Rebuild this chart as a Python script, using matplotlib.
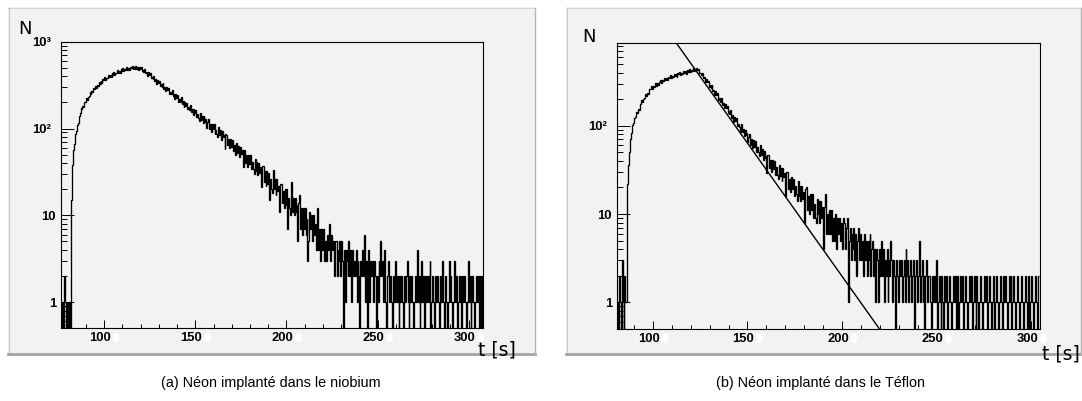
import numpy as np
import matplotlib
matplotlib.use("Agg")
import matplotlib.pyplot as plt
from matplotlib.patches import Rectangle, Ellipse
from matplotlib.lines import Line2D
from matplotlib.ticker import FixedLocator, LogLocator, NullFormatter, MultipleLocator, FixedFormatter
from matplotlib.transforms import ScaledTranslation
from matplotlib import font_manager

# ---------------- data ----------------
bin_width = 0.5   # seconds per bin

# (a) neon implanted in niobium: counts per bin, first bin starts at 76 s
nb_start = 76.0
nb_counts = [
    1, 0, 1, 0, 2, 1, 0, 1, 0, 1, 0, 2,
    15, 38, 57, 66, 86, 93, 109, 115, 141, 149,
    174, 167, 183, 179, 203, 202, 224, 213, 233, 234,
    262, 250, 270, 260, 292, 287, 311, 293, 314, 312,
    344, 326, 349, 333, 371, 360, 387, 361, 384, 378,
    415, 388, 412, 390, 431, 417, 446, 415, 440, 432,
    470, 438, 464, 438, 481, 464, 495, 459, 484, 473,
    512, 476, 501, 471, 515, 495, 524, 483, 506, 491,
    529, 488, 510, 475, 514, 488, 510, 462, 475, 453,
    489, 436, 451, 408, 444, 412, 431, 382, 395, 373,
    404, 354, 371, 330, 365, 336, 356, 310, 323, 304,
    334, 288, 304, 268, 301, 275, 294, 251, 265, 248,
    276, 235, 250, 217, 248, 225, 242, 204, 217, 202,
    228, 191, 205, 176, 204, 183, 199, 166, 178, 164,
    188, 155, 168, 142, 168, 150, 165, 134, 146, 133,
    121, 152, 125, 138, 115, 138, 119, 130, 101, 118,
    128, 100, 112, 92, 113, 99, 112, 86, 97, 87,
    79, 103, 84, 95, 74, 93, 79, 84, 58, 86,
    85, 64, 75, 60, 75, 62, 74, 55, 64, 55,
    50, 69, 52, 63, 47, 62, 51, 56, 36, 57,
    57, 40, 49, 36, 50, 39, 49, 34, 41, 34,
    30, 45, 32, 41, 29, 40, 31, 36, 21, 37,
    37, 24, 32, 22, 32, 23, 31, 15, 26, 20,
    18, 33, 20, 26, 17, 26, 19, 22, 11, 23,
    23, 14, 19, 12, 20, 13, 20, 7, 16, 12,
    10, 24, 11, 16, 10, 16, 11, 13, 5, 14,
    17, 7, 12, 6, 12, 7, 12, 6, 9, 3,
    5, 11, 7, 10, 5, 10, 6, 8, 4, 9,
    12, 4, 7, 3, 7, 4, 7, 3, 5, 3,
    3, 6, 4, 8, 3, 6, 4, 5, 2, 5,
    5, 2, 4, 3, 5, 2, 5, 3, 0, 4,
    1, 4, 3, 2, 5, 2, 4, 1, 4, 2,
    3, 2, 4, 1, 3, 2, 0, 3, 2, 4,
    2, 6, 1, 3, 0, 2, 4, 1, 3, 2,
    3, 1, 3, 2, 0, 2, 1, 3, 2, 5,
    2, 3, 1, 4, 1, 0, 2, 3, 2, 1,
    2, 1, 0, 2, 1, 3, 1, 2, 1, 0,
    2, 1, 2, 1, 0, 2, 1, 2, 3, 1,
    0, 2, 1, 2, 1, 0, 1, 2, 1, 4,
    1, 2, 0, 1, 3, 1, 2, 0, 2, 1,
    2, 1, 2, 3, 0, 1, 2, 1, 0, 2,
    1, 2, 1, 0, 1, 2, 1, 3, 1, 0,
    2, 1, 0, 1, 3, 1, 2, 1, 0, 1,
    3, 1, 2, 0, 1, 2, 1, 2, 0, 2,
    1, 2, 1, 0, 1, 3, 1, 2, 0, 1,
    2, 1, 0, 1, 2, 1, 2, 0, 2, 1, 0, 2,
]

# (b) neon implanted in Teflon: counts per bin, first bin starts at 81 s
tef_start = 81.0
tef_counts = [
    1, 0, 2, 1, 0, 3, 1, 0, 2, 1,
    1, 22, 36, 50, 71, 83, 101, 107, 123, 126,
    143, 140, 154, 152, 176, 176, 194, 186, 203, 205,
    229, 219, 238, 230, 259, 259, 280, 263, 281, 278,
    305, 285, 302, 287, 317, 309, 330, 307, 326, 320,
    349, 326, 345, 327, 360, 348, 372, 346, 365, 357,
    389, 362, 382, 360, 395, 381, 405, 375, 396, 387,
    420, 391, 412, 389, 426, 411, 436, 403, 425, 415,
    450, 419, 442, 416, 455, 432, 444, 395, 399, 374,
    398, 344, 354, 312, 341, 310, 323, 278, 286, 265,
    287, 245, 254, 221, 245, 221, 233, 197, 205, 188,
    207, 174, 183, 157, 176, 158, 168, 139, 146, 135,
    150, 124, 131, 111, 127, 113, 121, 99, 105, 96,
    85, 105, 86, 93, 77, 90, 78, 83, 65, 75,
    81, 61, 70, 56, 69, 58, 68, 50, 57, 50,
    45, 60, 47, 55, 41, 52, 43, 46, 29, 47,
    47, 33, 41, 30, 41, 32, 40, 28, 34, 28,
    25, 36, 27, 33, 24, 33, 26, 29, 16, 30,
    30, 19, 25, 18, 26, 19, 25, 16, 21, 17,
    14, 24, 16, 21, 14, 21, 15, 18, 8, 19,
    20, 11, 16, 10, 17, 11, 17, 9, 13, 9,
    8, 15, 10, 14, 8, 14, 9, 12, 4, 12,
    17, 6, 10, 6, 11, 6, 11, 5, 9, 5,
    5, 10, 4, 9, 6, 9, 5, 8, 4, 9,
    8, 4, 7, 9, 1, 5, 7, 3, 6, 4,
    7, 3, 6, 2, 5, 7, 3, 6, 3, 5,
    2, 6, 3, 5, 2, 5, 3, 6, 2, 4,
    5, 2, 4, 1, 4, 3, 1, 4, 2, 5,
    2, 4, 1, 3, 2, 4, 1, 3, 2, 5,
    3, 1, 3, 2, 0, 3, 2, 1, 3, 2,
    3, 1, 2, 3, 1, 4, 2, 3, 1, 2,
    3, 1, 2, 3, 0, 2, 3, 1, 2, 5,
    1, 2, 3, 1, 2, 0, 2, 3, 1, 2,
    2, 1, 0, 2, 1, 2, 1, 3, 0, 1,
    2, 1, 0, 2, 1, 0, 2, 1, 2, 0,
    1, 2, 1, 0, 1, 2, 1, 2, 0, 2,
    1, 0, 1, 2, 1, 2, 0, 1, 2, 1,
    0, 1, 2, 1, 2, 0, 1, 2, 1, 0,
    2, 1, 0, 1, 2, 1, 0, 1, 2, 1,
    2, 0, 1, 2, 1, 0, 1, 2, 1, 0,
    1, 2, 1, 0, 1, 2, 1, 0, 2, 1,
    2, 1, 0, 1, 2, 1, 2, 0, 1, 2,
    1, 0, 1, 2, 1, 0, 1, 2, 1, 0,
    1, 2, 1, 0, 2, 1, 0, 1, 2, 1,
    0, 1, 2, 1, 0, 2,
]

# exponential fit drawn on panel (b): N(t) = fit_n0 * exp(-(t - fit_t0) / fit_tau)
fit_t0 = 112.4
fit_n0 = 865.0
fit_tau = 14.4
fit_t_end = 219.7

x_ticks = [100, 150, 200, 250, 300]
x_tick_labels = ["100", "150", "200", "250", "300"]
y_ticks_a = [1, 10, 100, 1000]
y_tick_labels_a = ["1", "10", "10²", "10³"]
y_ticks_b = [1, 10, 100]
y_tick_labels_b = ["1", "10", "10²"]
xlim_a = (76.1, 308.0)
ylim_a = (0.5, 1000.0)
xlim_b = (80.9, 304.3)
ylim_b = (0.5, 865.0)

y_title = "N"
x_title = "t [s]"
caption_a = "(a) Néon implanté dans le niobium"
caption_b = "(b) Néon implanté dans le Téflon"

# ---------------- helpers ----------------
def pick(fams):
    for f in fams:
        try:
            font_manager.findfont(font_manager.FontProperties(family=f), fallback_to_default=False)
            return f
        except Exception:
            pass
    return "DejaVu Sans"

tick_font = pick(["Liberation Sans", "Arial", "DejaVu Sans"])
cap_font = pick(["Liberation Sans Narrow", "Liberation Sans"])
cap_size = 12.2 if cap_font == "Liberation Sans Narrow" else 10.4

W, H = 1082, 401
fig = plt.figure(figsize=(W / 100, H / 100), dpi=100)
fig.patch.set_facecolor("white")

def fx(px):
    return px / W

def fy(py):
    return 1 - py / H

# ROOT canvas boxes
for (x0, x1) in [(8, 535), (566, 1081)]:
    fig.add_artist(Rectangle((fx(x0), fy(354)), fx(x1 - x0), (354 - 7) / H,
                             transform=fig.transFigure, facecolor="#f2f2f2",
                             edgecolor="none", zorder=0))
    fig.add_artist(Line2D([fx(x0), fx(x1)], [fy(7.5), fy(7.5)], color="#d4d4d4", lw=0.8, zorder=1))
    fig.add_artist(Line2D([fx(x0 + 0.5), fx(x0 + 0.5)], [fy(7.5), fy(354)], color="#c8c8c8", lw=0.8, zorder=1))
    fig.add_artist(Line2D([fx(x0), fx(x1)], [fy(354), fy(354)], color="#a4a4a4", lw=2.0, zorder=1))
    fig.add_artist(Line2D([fx(x1 - 0.5), fx(x1 - 0.5)], [fy(7.5), fy(354)], color="#b4b4b4", lw=1.0, zorder=1))


def setup_axes(rect, xlim, ylim, yticks, ylabels):
    ax = fig.add_axes(rect)
    ax.set_facecolor("#f2f2f2")
    ax.set_yscale("log")
    ax.set_xlim(*xlim)
    ax.set_ylim(*ylim)
    for s in ax.spines.values():
        s.set_color("black")
        s.set_linewidth(0.8)
    ax.xaxis.set_major_locator(FixedLocator(x_ticks))
    ax.xaxis.set_major_formatter(FixedFormatter(x_tick_labels))
    ax.xaxis.set_minor_locator(MultipleLocator(10))
    ax.yaxis.set_major_locator(FixedLocator(yticks))
    ax.yaxis.set_major_formatter(FixedFormatter(ylabels))
    ax.yaxis.set_minor_locator(LogLocator(base=10, subs=np.arange(2, 10)))
    ax.yaxis.set_minor_formatter(NullFormatter())
    ax.tick_params(which="both", direction="in", top=False, right=False, colors="black", width=0.7)
    ax.xaxis.set_tick_params(which="major", length=6, pad=3.0)
    ax.xaxis.set_tick_params(which="minor", length=2.7)
    ax.yaxis.set_tick_params(which="major", length=9.5, pad=3.4)
    ax.yaxis.set_tick_params(which="minor", length=4.5)
    for lab in ax.get_xticklabels() + ax.get_yticklabels():
        lab.set_fontfamily(tick_font)
        lab.set_fontweight("bold")
        lab.set_fontsize(9.4)
    off = ScaledTranslation(-4 / 100, 0, fig.dpi_scale_trans)
    for lab in ax.get_xticklabels():
        lab.set_transform(lab.get_transform() + off)
    off_sup = ScaledTranslation(-5 / 100, 0, fig.dpi_scale_trans)
    for lab, txt in zip(ax.get_yticklabels(), ylabels):
        if len(txt) > 2:
            lab.set_transform(lab.get_transform() + off_sup)
    return ax


axA = setup_axes([fx(60.7), fy(328.3), fx(483.3 - 60.7), (328.3 - 41.7) / H],
                 xlim_a, ylim_a, y_ticks_a, y_tick_labels_a)
axB = setup_axes([fx(616.7), fy(329), fx(1039.5 - 616.7), (329 - 43) / H],
                 xlim_b, ylim_b, y_ticks_b, y_tick_labels_b)


def draw_hist(ax, start, counts):
    vals = np.asarray(counts, dtype=float)
    edges = start + bin_width * np.arange(len(vals) + 1)
    vals = np.where(vals > 0, vals, 1e-3)
    ax.stairs(vals, edges, baseline=None, color="black", lw=0.95)


draw_hist(axA, nb_start, nb_counts)
draw_hist(axB, tef_start, tef_counts)

tt = np.array([fit_t0, fit_t_end])
axB.plot(tt, fit_n0 * np.exp(-(tt - fit_t0) / fit_tau), color="black", lw=1.0)

# white marks after the x tick labels
fig.canvas.draw()
for ax, ylim in [(axA, ylim_a), (axB, ylim_b)]:
    for t in x_ticks:
        xd, yd = ax.transData.transform((t, ylim[0]))
        fig.add_artist(Ellipse((fx(xd + 12.0), (yd - 9.5) / H), 6.5 / W, 9.5 / H,
                               transform=fig.transFigure, facecolor="white",
                               edgecolor="none", zorder=5))

# axis titles
fig.text(fx(25), fy(29), y_title, fontsize=13, family="DejaVu Sans", ha="center", va="center")
fig.text(fx(589), fy(37), y_title, fontsize=13, family="DejaVu Sans", ha="center", va="center")
fig.text(fx(497), fy(350), x_title, fontsize=13.5, family="DejaVu Sans", ha="center", va="center")
fig.text(fx(1061), fy(354), x_title, fontsize=13.5, family="DejaVu Sans", ha="center", va="center")

# captions
fig.text(fx(271), fy(383), caption_a, fontsize=cap_size, family=cap_font, ha="center", va="center")
fig.text(fx(820), fy(383), caption_b, fontsize=cap_size, family=cap_font, ha="center", va="center")

fig.savefig("out.png", dpi=100)
